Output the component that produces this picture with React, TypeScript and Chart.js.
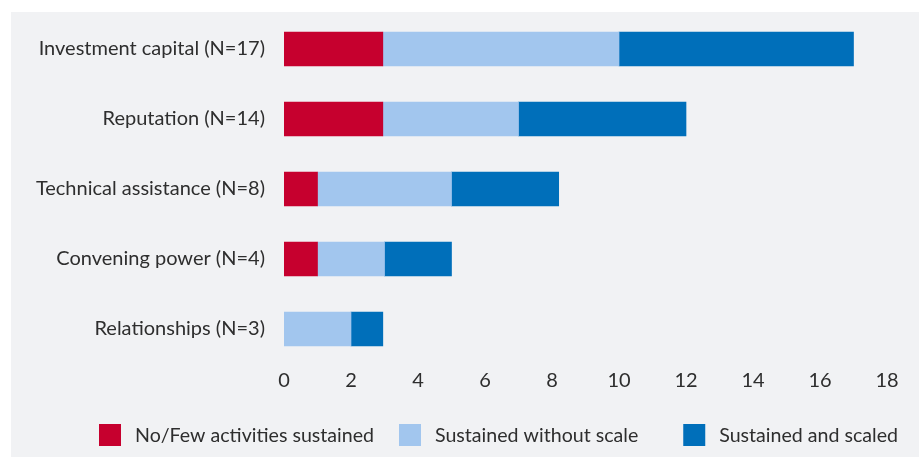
import React, { useEffect, useRef } from 'react';
import { Chart, registerables } from 'chart.js';

Chart.register(...registerables);

const categories = [
  'Investment capital (N=17)',
  'Reputation (N=14)',
  'Technical assistance (N=8)',
  'Convening power (N=4)',
  'Relationships (N=3)',
];
const seriesLabels = ['No/Few activities sustained', 'Sustained without scale', 'Sustained and scaled'];
const noFewSustained = [2.95, 2.95, 1, 1, null];
const sustainedWithoutScale = [7.05, 4.05, 4, 2, 2];
const sustainedAndScaled = [7, 5, 3.2, 2, 0.95];
const xTickValues = [0, 2, 4, 6, 8, 10, 12, 14, 16, 18];

const COLORS = ['#c6002e', '#a2c6ee', '#006fba'];
const TEXT = '#2e2e2e';
const FONT = 'Lato';
const FONT_SIZE = 20;
const LEGEND_FONT_SIZE = 19.6;

const legendPlugin = {
  id: 'customLegend',
  afterDraw(chart: any) {
    const ctx = chart.ctx as CanvasRenderingContext2D;
    const box = 22;
    const gap = 14;
    const spacings = [25, 45];
    const startX = 88;
    const centerY = 423;
    ctx.save();
    ctx.font = `${LEGEND_FONT_SIZE}px ${FONT}`;
    const ds = chart.data.datasets;
    let x = startX;
    ctx.textBaseline = 'middle';
    ctx.textAlign = 'left';
    ds.forEach((d: any, i: number) => {
      ctx.fillStyle = d.backgroundColor;
      ctx.fillRect(x, centerY - box / 2, box, box);
      ctx.fillStyle = TEXT;
      ctx.fillText(d.label, x + box + gap, centerY + 1);
      x += box + gap + ctx.measureText(d.label).width + (spacings[i] ?? 0);
    });
    ctx.restore();
  },
};

export default function App() {
  const canvasRef = useRef<HTMLCanvasElement | null>(null);

  useEffect(() => {
    if (!canvasRef.current) return;
    const series = [noFewSustained, sustainedWithoutScale, sustainedAndScaled];
    const chart = new Chart(canvasRef.current, {
      type: 'bar',
      data: {
        labels: categories,
        datasets: series.map((values, i) => ({
          label: seriesLabels[i],
          data: values,
          backgroundColor: COLORS[i],
          borderWidth: 0,
          barThickness: 34,
        })),
      },
      options: {
        indexAxis: 'y',
        animation: false,
        responsive: false,
        maintainAspectRatio: false,
        layout: { padding: { top: 2, right: 32, bottom: 60, left: 0 } },
        plugins: {
          legend: { display: false },
          tooltip: { enabled: false },
          title: { display: false },
        },
        scales: {
          x: {
            stacked: true,
            min: 0,
            max: 18,
            afterBuildTicks: (scale: any) => {
              scale.ticks = xTickValues.map((v) => ({ value: v }));
            },
            afterFit: (scale: any) => {
              scale.height = 33;
            },
            grid: { display: false, drawTicks: false },
            border: { display: false },
            ticks: {
              color: TEXT,
              font: { family: FONT, size: FONT_SIZE },
              padding: 5,
              maxRotation: 0,
            },
          },
          y: {
            stacked: true,
            afterFit: (scale: any) => {
              scale.width = 273;
              scale.paddingTop = 0;
              scale.paddingBottom = 0;
            },
            grid: { display: false, drawTicks: false },
            border: { display: false },
            ticks: {
              color: TEXT,
              font: { family: FONT, size: FONT_SIZE },
              padding: 19,
            },
          },
        },
      },
      plugins: [legendPlugin],
    });
    return () => chart.destroy();
  }, []);

  return (
    <div
      style={{
        position: 'absolute',
        left: 11,
        top: 12,
        width: 908,
        height: 445,
        background: '#f1f2f4',
      }}
    >
      <canvas ref={canvasRef} width={908} height={445} style={{ display: 'block' }} />
    </div>
  );
}
